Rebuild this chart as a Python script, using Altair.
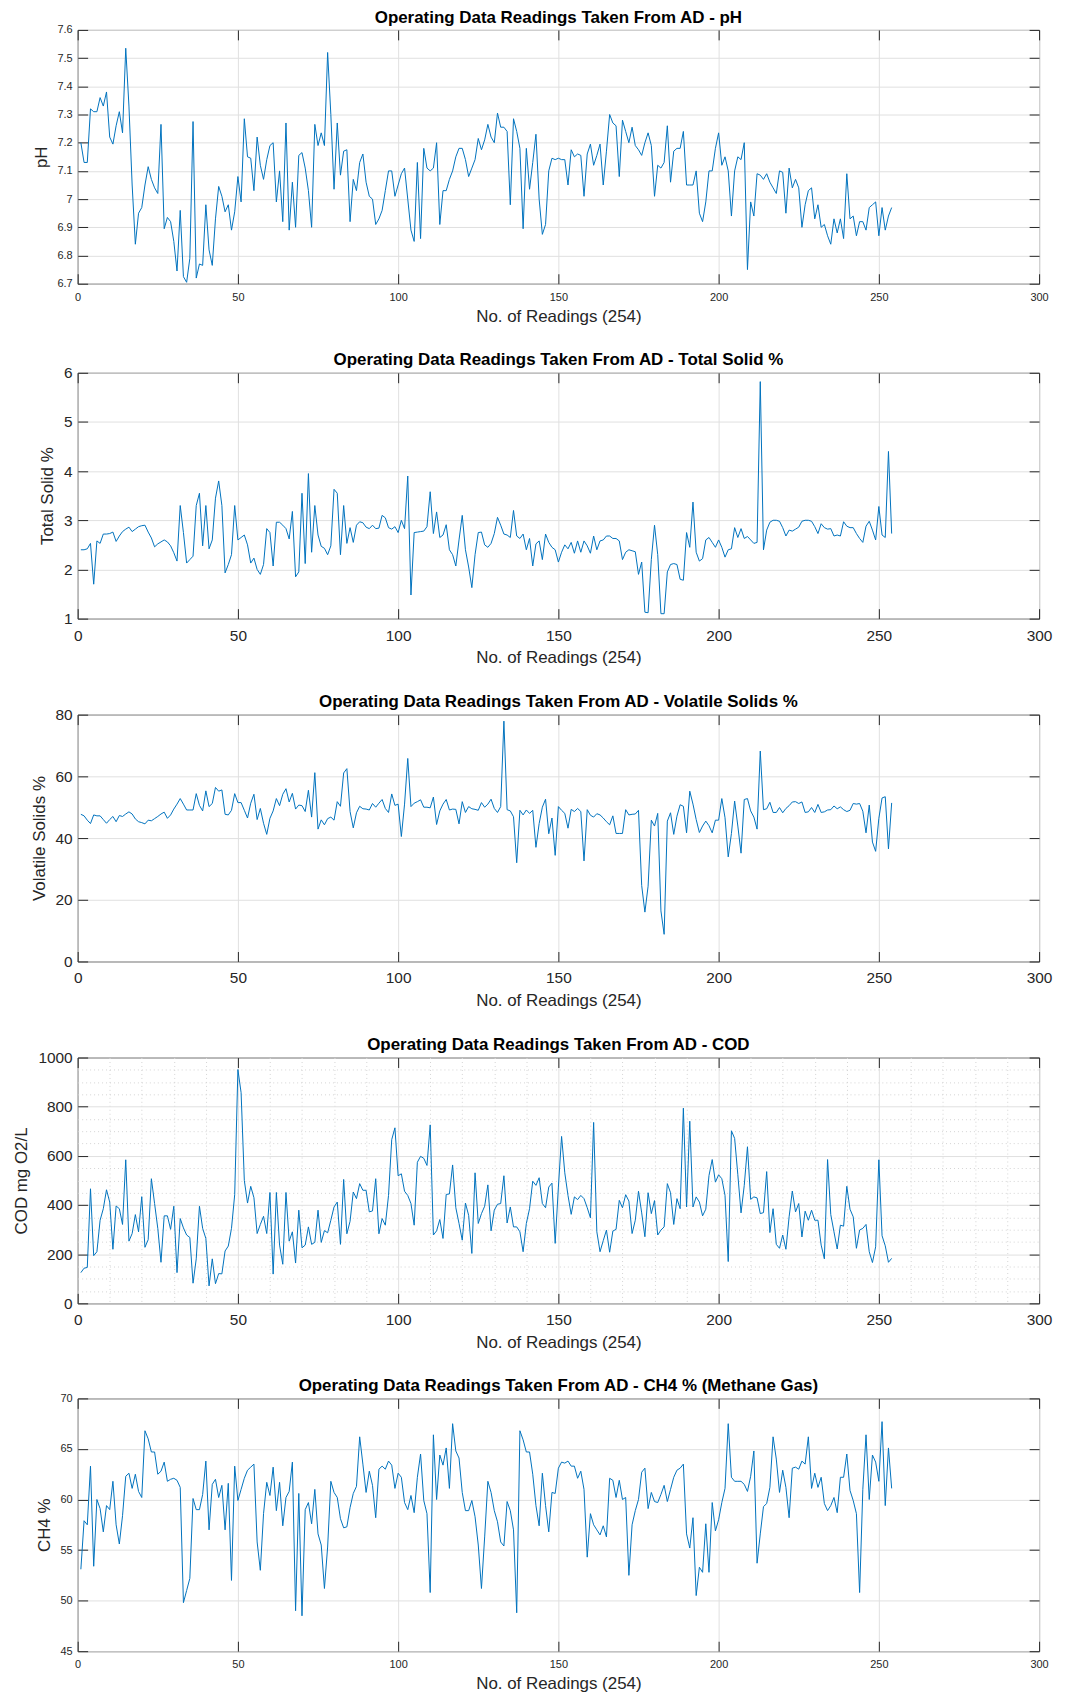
import altair as alt
import pandas as pd

readings = list(range(1, 255))

ph = [7.2, 7.13, 7.13, 7.32, 7.31, 7.31, 7.36, 7.33, 7.38, 7.22,
      7.195, 7.26, 7.31, 7.235, 7.535, 7.33, 7.05, 6.84, 6.95, 6.97,
      7.05, 7.115, 7.07, 7.04, 7.02, 7.265, 6.895, 6.935, 6.92, 6.85,
      6.745, 6.96, 6.725, 6.705, 6.79, 7.275, 6.72, 6.77, 6.765, 6.98,
      6.82, 6.765, 6.93, 7.045, 7.01, 6.955, 6.98, 6.89, 6.955, 7.08,
      6.99, 7.285, 7.15, 7.145, 7.03, 7.22, 7.12, 7.07, 7.14, 7.19,
      7.2, 6.99, 7.1, 6.92, 7.27, 6.89, 7.06, 6.9, 7.155, 7.165,
      7.11, 7.03, 6.9, 7.265, 7.19, 7.235, 7.19, 7.52, 7.3, 7.035,
      7.27, 7.085, 7.17, 7.175, 6.92, 7.07, 7.03, 7.13, 7.16, 7.06,
      7.01, 7.0, 6.91, 6.93, 6.96, 7.03, 7.1, 7.1, 7.01, 7.05,
      7.09, 7.11, 7.0, 6.89, 6.85, 7.13, 6.86, 7.18, 7.11, 7.1,
      7.11, 7.2, 6.91, 7.03, 7.03, 7.07, 7.1, 7.15, 7.18, 7.18,
      7.14, 7.08, 7.11, 7.14, 7.215, 7.175, 7.21, 7.265, 7.22, 7.2,
      7.305, 7.255, 7.255, 7.24, 6.98, 7.285, 7.24, 7.18, 6.895, 7.18,
      7.035, 7.13, 7.23, 7.0, 6.875, 6.91, 7.1, 7.145, 7.14,
      7.145, 7.14, 7.14, 7.05, 7.175, 7.15, 7.16, 7.155, 7.01, 7.16,
      7.195, 7.12, 7.155, 7.195, 7.05, 7.17, 7.3, 7.27, 7.26, 7.08,
      7.28, 7.24, 7.2, 7.255, 7.19, 7.175, 7.155, 7.2, 7.235, 7.19,
      7.01, 7.12, 7.11, 7.13, 7.26, 7.06, 7.17, 7.18, 7.18, 7.24,
      7.05, 7.05, 7.05, 7.1, 6.95, 6.92, 6.99, 7.1, 7.1, 7.18,
      7.235, 7.12, 7.15, 7.1, 6.94, 7.1, 7.15, 7.14, 7.2, 6.75,
      6.99, 6.94, 7.09, 7.085, 7.07, 7.09, 7.06, 7.04, 7.02, 7.1,
      7.095, 6.95, 7.11, 7.04, 7.07, 7.04, 6.9, 6.98, 7.03, 7.04,
      6.93, 6.98, 6.9, 6.91, 6.87, 6.84, 6.93, 6.88, 6.93, 6.86,
      7.09, 6.93, 6.94, 6.87, 6.92, 6.92, 6.89, 6.97, 6.98, 6.99,
      6.87, 6.97, 6.89, 6.94, 6.97]

total_solid = [2.4, 2.4, 2.42, 2.53, 1.7, 2.58, 2.53, 2.72, 2.72, 2.73,
               2.76, 2.57, 2.68, 2.77, 2.82, 2.86, 2.77, 2.82, 2.87, 2.89,
               2.9, 2.76, 2.64, 2.46, 2.52, 2.56, 2.6, 2.56, 2.48, 2.34,
               2.17, 3.3, 2.75, 2.13, 2.2, 2.27, 3.3, 3.55, 2.48, 3.3,
               2.42, 2.6, 3.45, 3.8, 3.3, 1.93, 2.1, 2.3, 3.3, 2.6,
               2.65, 2.7, 2.5, 2.13, 2.23, 2.0, 1.9, 2.1, 2.83, 2.75,
               2.07, 2.96, 2.96, 2.9, 2.83, 2.62, 3.18, 1.85, 1.95, 3.55,
               2.12, 3.95, 2.35, 3.3, 2.7, 2.47, 2.43, 2.3, 2.48, 3.63,
               3.55, 2.3, 3.3, 2.53, 2.85, 2.55, 2.9, 2.97, 2.95, 2.86,
               2.83, 2.9, 2.83, 2.84, 3.1, 3.05, 2.85, 2.82, 2.87, 2.75,
               3.0, 2.83, 3.9, 1.48, 2.75, 2.76, 2.77, 2.78, 2.87, 3.58,
               2.73, 3.17, 2.65, 2.7, 2.91, 2.4, 2.3, 2.07, 2.6, 3.1,
               2.4, 2.05, 1.63, 2.3, 2.75, 2.76, 2.5, 2.45, 2.53, 2.73,
               3.06, 2.9, 2.72, 2.7, 2.65, 3.2, 2.68, 2.63, 2.72, 2.4,
               2.63, 2.07, 2.52, 2.58, 2.2, 2.72, 2.55, 2.45, 2.4, 2.15,
               2.35, 2.5, 2.42, 2.55, 2.33, 2.58, 2.35, 2.58, 2.48, 2.33,
               2.68, 2.4, 2.58, 2.6, 2.68, 2.68, 2.63, 2.63, 2.58, 2.2,
               2.35, 2.4, 2.38, 2.36, 1.9, 2.15, 1.13, 1.12, 2.2, 2.9,
               2.3, 1.1, 1.1, 1.95, 2.1, 2.12, 2.1, 1.8, 1.78, 2.75,
               2.45, 3.37, 2.35, 2.17, 2.22, 2.6, 2.65, 2.55, 2.45, 2.6,
               2.45, 2.25, 2.4, 2.42, 2.85, 2.65, 2.83, 2.63, 2.67, 2.6,
               2.53, 2.55, 5.82, 2.4, 2.8, 2.96, 3.0, 3.0, 2.98, 2.85,
               2.68, 2.8, 2.78, 2.82, 2.86, 2.98, 3.0, 3.0, 2.98, 2.87,
               2.73, 2.93, 2.85, 2.82, 2.83, 2.68, 2.7, 2.68, 2.97, 2.88,
               2.85, 2.85, 2.73, 2.63, 2.55, 2.88, 2.98, 2.8, 2.6, 3.28,
               2.7, 2.65, 4.4, 2.73]

volatile_solids = [47.7, 47.2, 45.8, 44.7, 47.5, 47.2, 47.2, 46.0, 44.8, 46.0,
                   47.0, 45.3, 47.3, 47.0, 47.8, 48.5, 47.8, 46.2, 45.3, 45.0,
                   44.6, 45.8, 45.6, 46.3, 47.0, 47.8, 48.4, 46.4, 47.5, 49.4,
                   51.0, 52.8, 51.0, 49.1, 49.1, 49.1, 54.4, 50.6, 48.8, 55.3,
                   50.2, 51.2, 56.4, 55.2, 55.6, 47.7, 47.5, 49.0, 54.4, 51.5,
                   51.5, 49.0, 46.5, 51.3, 54.2, 46.0, 49.6, 44.8, 41.2, 46.4,
                   48.8, 52.8, 50.5, 54.2, 56.0, 51.7, 54.5, 49.4, 50.7, 50.5,
                   48.6, 55.5, 46.8, 61.2, 42.9, 45.9, 44.3, 46.3, 46.8, 45.8,
                   51.8, 50.3, 61.1, 62.5, 48.6, 43.3, 48.2, 50.3, 49.5, 49.4,
                   49.1, 51.2, 50.0, 51.3, 52.5, 49.6, 48.3, 54.3, 50.6, 51.0,
                   40.5, 51.0, 65.8, 50.2, 51.3, 51.8, 52.4, 50.0, 50.0, 49.8,
                   53.3, 44.4, 48.8, 51.0, 52.5, 49.1, 49.4, 49.3, 44.6, 51.8,
                   48.3, 50.2, 49.5, 49.3, 49.0, 51.5, 50.0, 51.0, 52.6, 49.6,
                   48.3, 50.2, 77.9, 49.2, 48.8, 46.9, 32.0,
                   49.0, 47.5, 49.1, 48.0, 49.0, 37.0, 44.7, 50.0, 52.6, 41.4,
                   46.5, 34.4, 50.2, 49.0, 48.0, 43.2, 49.3, 48.6, 49.6, 48.6,
                   32.6, 49.2, 47.4, 46.8, 47.9, 47.5, 46.5, 45.3, 44.3, 47.2,
                   41.5, 41.5, 41.5, 49.2, 47.5, 47.7, 47.8, 49.0, 24.6, 16.0,
                   24.4, 45.8, 43.9, 48.0, 16.4, 8.8, 45.5, 48.2, 41.2, 47.1,
                   50.8, 50.3, 41.7, 55.2, 51.0, 46.0, 41.8, 43.9, 45.5, 44.0,
                   41.7, 45.8, 45.8, 52.8, 46.6, 33.9, 41.5, 52.0, 43.9, 35.1,
                   52.5, 52.8, 48.8, 46.8, 42.9, 68.2, 49.2, 49.5, 51.6, 48.3,
                   48.3, 49.9, 48.2, 49.6, 50.5, 51.7, 51.8, 51.2, 51.7, 48.3,
                   48.5, 49.9, 48.3, 50.9, 48.3, 48.5, 49.1, 49.2, 50.4, 49.5,
                   50.1, 49.2, 48.6, 49.0, 51.2, 51.0, 51.2, 48.7, 41.7, 50.7,
                   38.7, 35.7, 46.4, 53.0, 53.4, 36.5, 51.4]

cod = [125, 143, 146, 466, 194, 210, 338, 385, 462, 412,
       220, 396, 385, 321, 584, 253, 284, 361, 291, 434,
       228, 259, 507, 406, 305, 167, 356, 356, 301, 395,
       125, 345, 307, 278, 268, 82, 181, 395, 305, 264,
       71, 181, 80, 121, 120, 213, 233, 305, 442, 951,
       857, 500, 408, 476, 430, 284, 321, 354, 284, 451,
       119, 451, 237, 159, 451, 253, 291, 164, 379, 226,
       237, 311, 240, 248, 379, 248, 296, 287, 338, 392,
       412, 240, 504, 283, 334, 453, 426, 487, 460, 460,
       372, 376, 507, 283, 345, 318, 439, 666, 714, 519,
       527, 456, 439, 406, 318, 574, 598, 590, 561, 726,
       278, 295, 341, 264, 443, 445, 563, 389, 325, 257,
       408, 358, 203, 531, 325, 365, 395, 482, 295, 379,
       403, 406, 519, 327, 392, 311, 311,
       291, 210, 325, 385, 497, 480, 511, 406, 389, 473,
       489, 244, 473, 679, 531, 439, 362, 433, 422, 439,
       426, 389, 348, 736, 291, 210, 255, 298, 208, 294,
       301, 419, 389, 442, 416, 284, 338, 456, 368, 271,
       450, 365, 418, 278, 298, 311, 487, 450, 321, 426,
       385, 794, 392, 741, 392, 433, 412, 356, 383, 520,
       585, 493, 523, 507, 439, 170, 702, 671, 523, 368,
       480, 637, 423, 433, 429, 365, 369, 536, 288, 385,
       240, 224, 278, 220, 352, 457, 372, 406, 270, 375,
       338, 379, 338, 338, 237, 181, 585, 361, 291, 221,
       318, 314, 476, 383, 352, 224, 298, 305, 321, 210,
       166, 230, 584, 275, 234, 167, 183]

ch4 = [53.1, 57.9, 57.5, 63.3, 53.4, 60.0, 59.1, 56.8, 59.4, 59.0,
       61.8, 57.5, 55.6, 58.4, 62.3, 62.6, 61.1, 62.5, 60.8, 60.2,
       66.8, 66.0, 64.7, 64.7, 62.5, 62.8, 63.7, 61.8, 62.0, 62.1,
       61.9, 61.2, 49.8, 51.0, 52.2, 60.1, 59.0, 59.0, 60.5, 63.8,
       57.0, 61.5, 62.0, 60.2, 61.4, 57.0, 61.6, 52.0, 63.3, 59.9,
       61.0, 62.1, 62.9, 63.2, 63.5, 55.8, 53.0, 58.6, 61.7, 60.4,
       63.2, 58.9, 61.7, 57.4, 60.2, 60.8, 63.7, 49.0, 60.6, 48.5,
       59.0, 59.7, 57.6, 61.0, 56.6, 55.5, 51.2, 55.3, 61.8, 60.7,
       60.2, 58.1, 57.2, 57.3, 59.2, 60.6, 61.3, 66.2, 63.5, 60.7,
       62.8, 61.4, 58.2, 63.0, 63.3, 63.0, 63.8, 63.4, 61.1, 62.6,
       62.2, 59.7, 59.0, 60.4, 58.7, 62.2, 64.5, 59.9, 58.6, 50.8,
       66.4, 60.0, 64.4, 63.4, 65.1, 61.1, 67.5, 64.8, 64.1, 60.7,
       58.9, 58.9, 59.9, 58.3, 55.5, 51.2, 56.3, 61.8, 60.7, 58.9,
       57.8, 55.8, 55.4, 59.8, 58.9, 57.0, 48.8,
       66.8, 65.9, 64.7, 64.7, 62.5, 59.4, 57.4, 62.6, 59.4, 56.8,
       60.7, 60.6, 63.1, 63.7, 63.6, 63.8, 63.3, 63.3, 62.1, 62.8,
       61.0, 54.3, 58.6, 57.5, 57.0, 56.5, 57.4, 56.3, 62.1, 61.9,
       60.2, 61.9, 60.0, 60.2, 52.5, 57.5, 58.9, 60.0, 62.7, 63.1,
       59.1, 60.7, 59.8, 59.7, 60.5, 61.4, 59.8, 61.0, 62.2, 62.9,
       63.1, 63.5, 56.6, 55.2, 58.2, 50.5, 53.3, 52.8, 57.6, 52.8,
       59.7, 56.9, 58.0, 59.7, 61.1, 67.5, 62.2, 61.8, 61.8, 61.8,
       61.5, 60.8, 62.3, 64.8, 53.7, 56.6, 59.3, 59.6, 61.2, 66.2,
       64.0, 60.7, 62.9, 61.2, 58.2, 63.1, 63.2, 63.0, 63.8, 63.5,
       66.2, 61.1, 62.6, 61.2, 62.2, 59.6, 58.9, 59.4, 60.2, 58.7,
       62.2, 62.2, 64.5, 60.9, 59.9, 58.6, 50.8, 61.0, 66.4, 60.0,
       64.4, 63.7, 61.8, 67.7, 59.4, 65.1, 61.1]

x_ticks = [0, 50, 100, 150, 200, 250, 300]
ph_ticks = [6.7, 6.8, 6.9, 7.0, 7.1, 7.2, 7.3, 7.4, 7.5, 7.6]
ts_ticks = [1, 2, 3, 4, 5, 6]
vs_ticks = [0, 20, 40, 60, 80]
cod_ticks = [0, 200, 400, 600, 800, 1000]
cod_minor_x = [v for v in range(10, 300, 10) if v % 50 != 0]
cod_minor_y = [50, 100, 150, 250, 300, 350, 450, 500, 550, 650, 700, 750, 850, 900, 950]
ch4_ticks = [45, 50, 55, 60, 65, 70]

FONT = "Liberation Sans"
LINE = "#0072BD"
DARK = "#262626"
GRID = "#e0e0e0"
MINOR = "#d4d4d4"
W = 966


def panel(values, title, ytitle, yticks, yfmt, small, height, minor_x=None, minor_y=None):
    df = pd.DataFrame({"reading": readings, "value": values})
    lab = 11 if small else 15.5
    xpad = 7.5 if small else 9.5
    xs = alt.Scale(domain=[0, 300], nice=False, zero=False)
    ys = alt.Scale(domain=[yticks[0], yticks[-1]], nice=False, zero=False)
    base = alt.Chart(df)
    main = base.mark_line(color=LINE, strokeWidth=1).encode(
        x=alt.X("reading:Q", scale=xs, title="No. of Readings (254)",
                axis=alt.Axis(orient="bottom", values=x_ticks, grid=True, gridColor=GRID,
                              domain=False, tickSize=10, tickColor=DARK, offset=-10,
                              minExtent=0, labelPadding=xpad, labelFontSize=lab,
                              labelColor=DARK, labelFont=FONT, labelFlush=False, format="d",
                              titleFont=FONT, titleFontSize=17, titleColor=DARK,
                              titleFontWeight="normal", titlePadding=6)),
        y=alt.Y("value:Q", scale=ys, title=ytitle,
                axis=alt.Axis(orient="left", values=yticks, grid=True, gridColor=GRID,
                              domain=False, tickSize=10, tickColor=DARK, offset=-10,
                              minExtent=0, labelPadding=5.5, labelFontSize=lab,
                              labelColor=DARK, labelFont=FONT, labelFlush=False, format=yfmt,
                              titleFont=FONT, titleFontSize=17, titleColor=DARK,
                              titleFontWeight="normal", titlePadding=7)),
    )
    frame = base.mark_line(opacity=0).encode(
        x=alt.X("reading:Q", scale=xs, title=None,
                axis=alt.Axis(orient="top", values=x_ticks, grid=False, labels=False,
                              domain=False, tickSize=10, tickColor=DARK, offset=-10,
                              minExtent=0, maxExtent=0)),
        y=alt.Y("value:Q", scale=ys, title=None,
                axis=alt.Axis(orient="right", values=yticks, grid=False, labels=False,
                              domain=False, tickSize=10, tickColor=DARK, offset=-10,
                              minExtent=0, maxExtent=0)),
    )
    layers = []
    if minor_x is not None:
        minor = base.mark_line(opacity=0).encode(
            x=alt.X("reading:Q", scale=xs, title=None,
                    axis=alt.Axis(orient="bottom", values=minor_x, grid=True, gridColor=MINOR,
                                  gridDash=[1, 3], labels=False, ticks=False, domain=False,
                                  minExtent=0, maxExtent=0)),
            y=alt.Y("value:Q", scale=ys, title=None,
                    axis=alt.Axis(orient="left", values=minor_y, grid=True, gridColor=MINOR,
                                  gridDash=[1, 3], labels=False, ticks=False, domain=False,
                                  minExtent=0, maxExtent=0)),
        )
        layers.append(minor)
    layers += [main, frame]
    return alt.layer(*layers).resolve_axis(x="independent", y="independent").properties(
        width=W, height=height,
        title=alt.TitleParams(title, font=FONT, fontSize=17, fontWeight="bold",
                              color="#000000", offset=-20, baseline="bottom", anchor="middle"),
    )


p1 = panel(ph, "Operating Data Readings Taken From AD - pH", "pH", ph_ticks, ".1~f", True, 255)
p2 = panel(total_solid, "Operating Data Readings Taken From AD - Total Solid %", "Total Solid %",
           ts_ticks, "d", False, 247)
p3 = panel(volatile_solids, "Operating Data Readings Taken From AD - Volatile Solids %",
           "Volatile Solids %", vs_ticks, "d", False, 248)
p4 = panel(cod, "Operating Data Readings Taken From AD - COD", "COD mg O2/L", cod_ticks, "d",
           False, 247, minor_x=cod_minor_x, minor_y=cod_minor_y)
p5 = panel(ch4, "Operating Data Readings Taken From AD - CH4 % (Methane Gas)", "CH4 %",
           ch4_ticks, "d", True, 254)

chart = alt.vconcat(p1, p2, p3, p4, p5, spacing=25.5).properties(
    padding={"left": 4, "top": -4, "right": 4, "bottom": 0},
    background="white",
).configure_view(stroke=DARK, strokeWidth=1)

chart.save("out.html", embed_options={"renderer": "svg", "actions": False})
